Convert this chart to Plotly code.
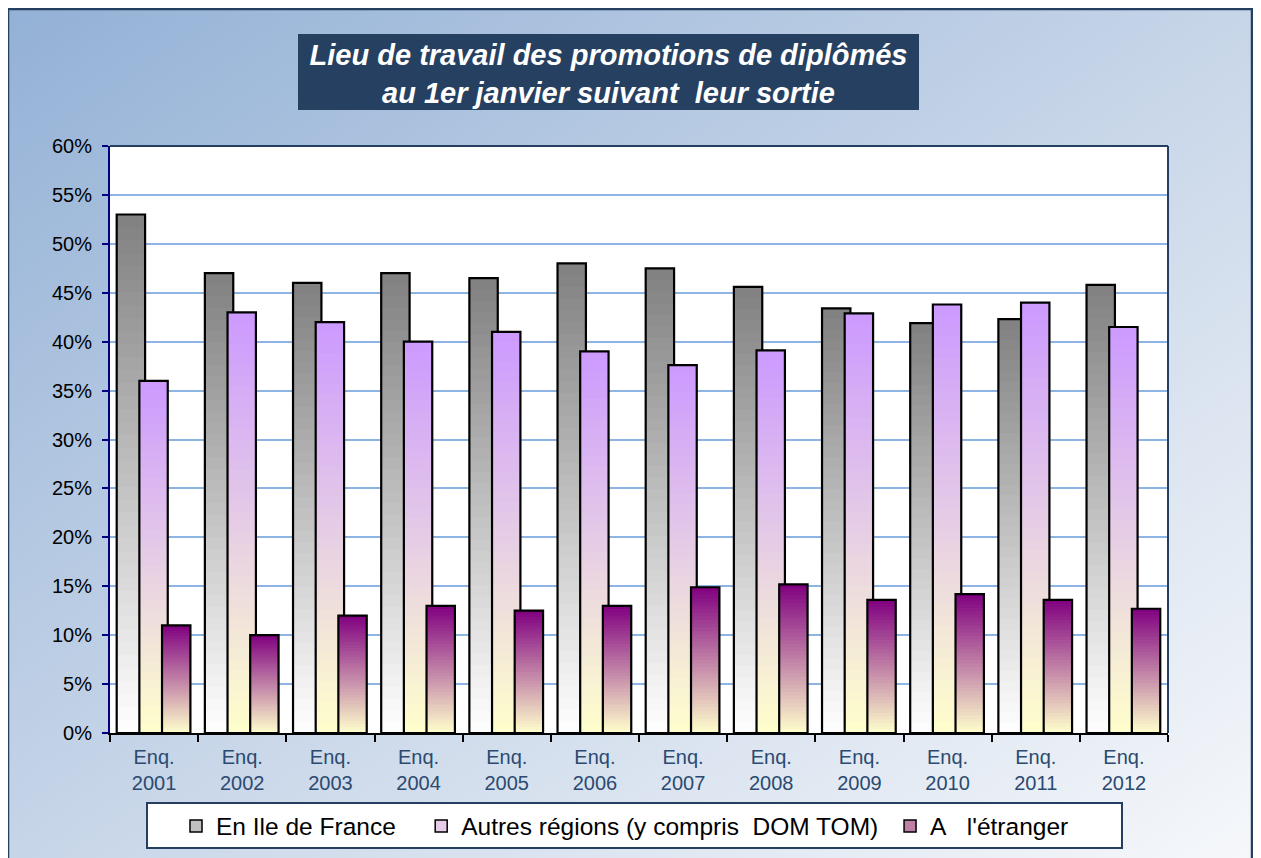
import base64
import plotly.graph_objects as go

# ---------------- data ----------------
categories = ["Enq.<br>2001", "Enq.<br>2002", "Enq.<br>2003", "Enq.<br>2004",
              "Enq.<br>2005", "Enq.<br>2006", "Enq.<br>2007", "Enq.<br>2008",
              "Enq.<br>2009", "Enq.<br>2010", "Enq.<br>2011", "Enq.<br>2012"]
ile_de_france = [53.0, 47.0, 46.0, 47.0, 46.5, 48.0, 47.5, 45.6, 43.4, 41.9, 42.3, 45.8]
autres_regions = [36.0, 43.0, 42.0, 40.0, 41.0, 39.0, 37.6, 39.1, 42.9, 43.8, 44.0, 41.5]
etranger = [11.0, 10.0, 12.0, 13.0, 12.5, 13.0, 14.9, 15.2, 13.6, 14.2, 13.6, 12.7]
series_names = ["En Ile de France",
                "Autres régions (y compris\u00a0 DOM TOM)",
                "A\u00a0\u00a0 l'étranger"]
title_text = "Lieu de travail des promotions de diplômés<br>au 1er janvier suivant\u00a0 leur sortie"

# ---------------- styling ----------------
OFF = 8                      # page body margin
W_PX, H_PX = 1261 - 2 * OFF, 858 - OFF
PL, PR, PT, PB = 110, 1168, 146, 733  # plot area, screen pixels
FONT = "Arial, Liberation Sans, sans-serif"
NAVY = "#243F60"
NB = "\u00a0"

def px_x(x):
    return (x - PL) / (PR - PL)

def px_y(y):
    return (PB - y) / (PB - PT)

def lerp(c0, c1, t):
    return "rgb(%d,%d,%d)" % tuple(round(a + (b - a) * t) for a, b in zip(c0, c1))

# (bottom colour, top colour, offset)
BAR_W = 0.322
styles = [
    ((255, 255, 255), (128, 128, 128), -0.424),
    ((255, 255, 204), (204, 153, 255), -0.167),
    ((255, 255, 204), (128, 0, 128), 0.090),
]
values = [ile_de_france, autres_regions, etranger]
legend_pad = [NB * 3, NB * 1, ""]
N = 40
EPS = 0.15  # overlap between gradient slices (axis units) to avoid seams

fig = go.Figure()
for vals, name, (bot, top, off) in zip(values, series_names, styles):
    for k in range(N):
        t = (k + 0.5) / N
        heights = [v / N + (EPS if k < N - 1 else 0) for v in vals]
        fig.add_trace(go.Bar(
            x=categories, y=heights, base=[v * k / N for v in vals],
            width=BAR_W, offset=off,
            marker=dict(color=lerp(bot, top, t), line=dict(width=0)),
            showlegend=False, hoverinfo="skip"))
    fig.add_trace(go.Bar(
        x=categories, y=vals, width=BAR_W, offset=off, name=name,
        marker=dict(color="rgba(0,0,0,0)", line=dict(color="black", width=2.2)),
        showlegend=False, hovertemplate="%{y}%<extra>" + name + "</extra>"))
# legend entries
for name, pad, (bot, top, off) in zip(series_names, legend_pad, styles):
    fig.add_trace(go.Bar(
        x=categories, y=[None] * len(categories), name=name + pad, width=BAR_W, offset=off,
        marker=dict(color=lerp(bot, top, 0.5), line=dict(color="black", width=1.5)),
        showlegend=True))

# background gradient
svg = ('<svg xmlns="http://www.w3.org/2000/svg" width="1252" height="862" preserveAspectRatio="none">'
       '<defs><linearGradient id="g" x1="0" y1="0" x2="1" y2="1">'
       '<stop offset="0" stop-color="#93B1D6"/><stop offset="0.55" stop-color="#CCD9EA"/>'
       '<stop offset="1" stop-color="#F6F8FB"/></linearGradient></defs>'
       '<rect width="100%" height="100%" fill="url(#g)"/></svg>')
src = "data:image/svg+xml;base64," + base64.b64encode(svg.encode()).decode()

fx0, fy0, fx1, fy1 = 8, 9, 1252, 870
fig.add_layout_image(dict(
    source=src, xref="paper", yref="paper",
    x=px_x(fx0), y=px_y(fy0), sizex=px_x(fx1) - px_x(fx0), sizey=px_y(fy0) - px_y(fy1),
    xanchor="left", yanchor="top", sizing="stretch", layer="below"))

shapes = [
    dict(type="rect", xref="paper", yref="paper", x0=0, y0=0, x1=1, y1=1,
         fillcolor="white", line=dict(width=0), layer="below"),
    dict(type="rect", xref="paper", yref="paper", x0=px_x(298), x1=px_x(919),
         y0=px_y(110), y1=px_y(34), fillcolor="#264061", line=dict(width=0), layer="below"),
    dict(type="rect", xref="paper", yref="paper", x0=px_x(147), x1=px_x(1122),
         y0=px_y(848), y1=px_y(803), fillcolor="white",
         line=dict(color=NAVY, width=2), layer="below"),
    dict(type="rect", xref="paper", yref="paper", x0=px_x(fx0), x1=px_x(fx1),
         y0=px_y(fy1), y1=px_y(fy0), line=dict(color=NAVY, width=2.5), layer="above"),
    dict(type="line", xref="paper", yref="paper", x0=0, x1=1, y0=1, y1=1,
         line=dict(color=NAVY, width=2), layer="above"),
    dict(type="line", xref="paper", yref="paper", x0=1, x1=1, y0=0, y1=1,
         line=dict(color=NAVY, width=2), layer="above"),
]

fig.update_layout(
    width=W_PX, height=H_PX, autosize=False,
    margin=dict(l=PL - OFF, r=W_PX - (PR - OFF), t=PT - OFF, b=H_PX - (PB - OFF),
                autoexpand=False),
    paper_bgcolor="white", plot_bgcolor="rgba(0,0,0,0)",
    barmode="overlay",
    shapes=shapes,
    title=dict(text=title_text, x=(608.5 - OFF) / W_PX, xanchor="center",
               y=1 - (65 - OFF) / H_PX, yanchor="middle", yref="container",
               font=dict(family=FONT, size=29, color="white", weight="bold", style="italic")),
    legend=dict(orientation="h", x=px_x(176), xanchor="left", y=px_y(826), yanchor="middle",
                bgcolor="rgba(0,0,0,0)", borderwidth=0, itemwidth=30,
                font=dict(family=FONT, size=24.5, color="black"), traceorder="normal"),
    xaxis=dict(showline=True, linecolor="black", linewidth=2, ticks="outside",
               tickson="boundaries", ticklen=7, tickwidth=2, tickcolor="black",
               showgrid=False, zeroline=False, ticklabelstandoff=5,
               tickfont=dict(family=FONT, size=20, color="#2B4A70")),
    yaxis=dict(range=[0, 60], dtick=5, ticksuffix="%", showline=True, linecolor="#000080",
               linewidth=2, ticks="outside", ticklen=6, tickwidth=2, tickcolor="#000080",
               showgrid=True, gridcolor="#8DB4E2", gridwidth=2, zeroline=False,
               ticklabelstandoff=6,
               tickfont=dict(family=FONT, size=20, color="black")),
    hovermode="closest",
)

fig.write_html("out.html")
